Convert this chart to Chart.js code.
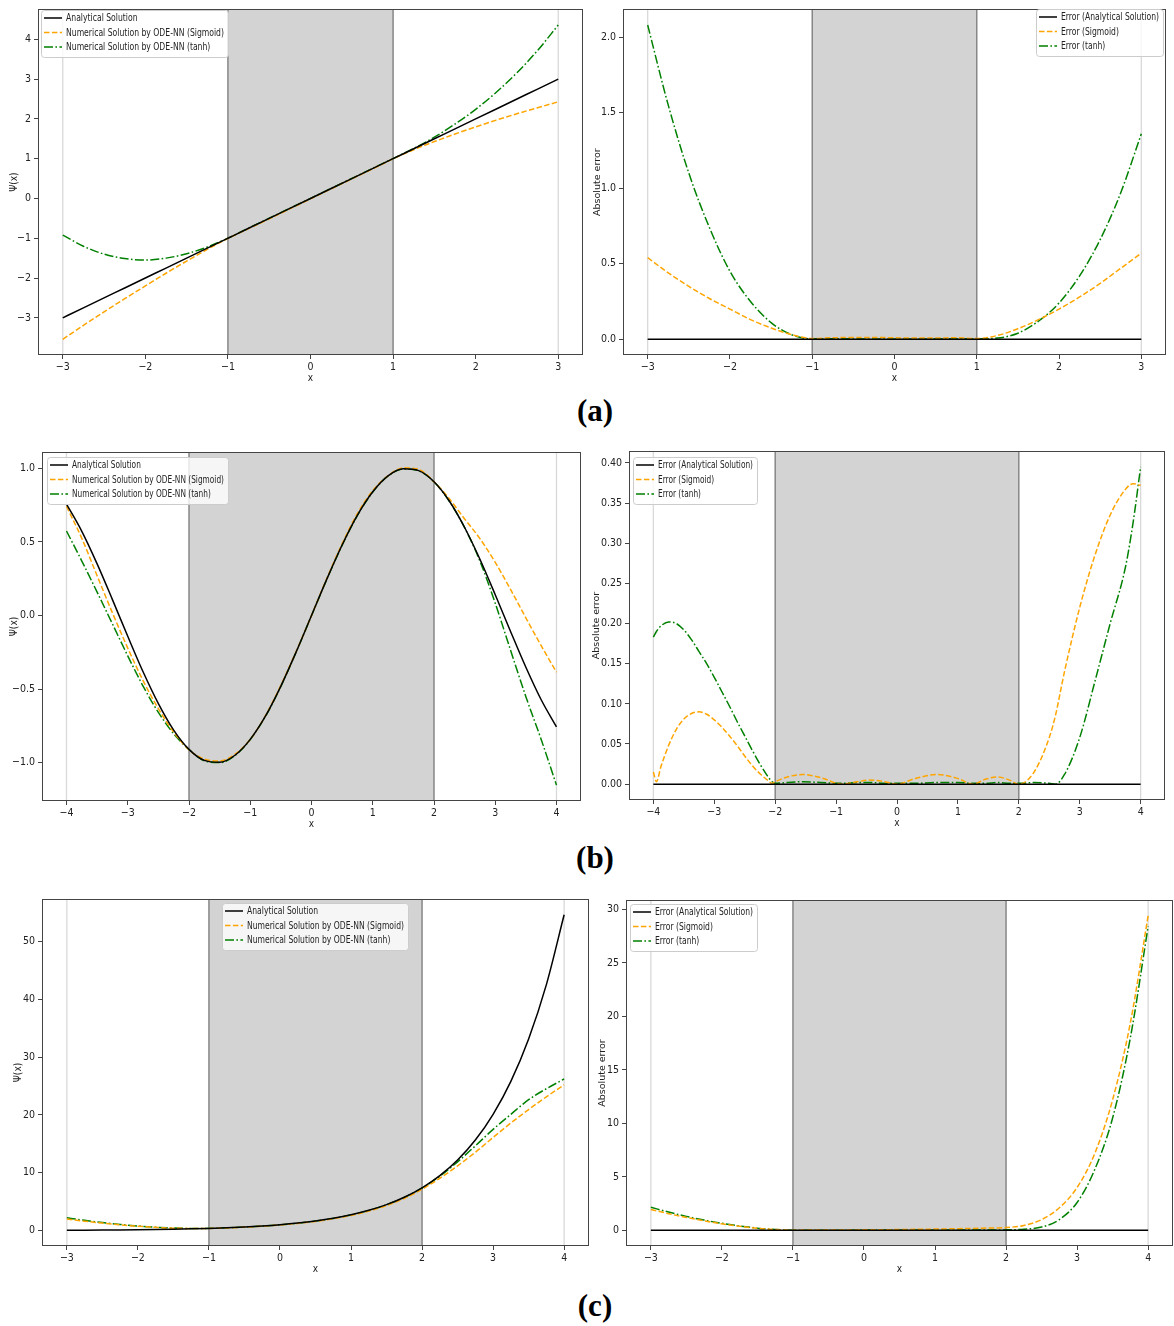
<!DOCTYPE html>
<html><head><meta charset="utf-8">
<script src="https://cdn.jsdelivr.net/npm/chart.js@4.4.1/dist/chart.umd.min.js"></script>
<style>
html,body{margin:0;padding:0;background:#fff;}
body{width:1174px;height:1326px;position:relative;overflow:hidden;}
canvas{position:absolute;}
.lab{position:absolute;font-family:"Liberation Serif","DejaVu Serif",serif;font-weight:bold;font-size:31px;line-height:1;transform:translateX(-50%);color:#000;}
</style></head><body>
<canvas id="a1"></canvas><canvas id="a2"></canvas>
<canvas id="b1"></canvas><canvas id="b2"></canvas>
<canvas id="c1"></canvas><canvas id="c2"></canvas>
<div class="lab" style="left:595px;top:395px;">(a)</div>
<div class="lab" style="left:595px;top:842px;">(b)</div>
<div class="lab" style="left:595px;top:1290px;">(c)</div>
<script>
// ---------- series names ----------
const namesPsi = ['Analytical Solution','Numerical Solution by ODE-NN (Sigmoid)','Numerical Solution by ODE-NN (tanh)'];
const namesErr = ['Error (Analytical Solution)','Error (Sigmoid)','Error (tanh)'];

// ---------- panel (a) ----------
const xA = [-3,-2.75,-2.5,-2.25,-2,-1.75,-1.5,-1.25,-1,-0.75,-0.5,-0.25,0,0.25,0.5,0.75,1,1.25,1.5,1.75,2,2.25,2.5,2.75,3];
const psiA_exact = [-3,-2.75,-2.5,-2.25,-2,-1.75,-1.5,-1.25,-1,-0.75,-0.5,-0.25,0,0.25,0.5,0.75,1,1.25,1.5,1.75,2,2.25,2.5,2.75,3];
const psiA_sig = [-3.54,-3.19,-2.85,-2.52,-2.2,-1.88,-1.575,-1.28,-1.005,-0.76,-0.512,-0.262,-0.01,0.242,0.492,0.74,0.995,1.225,1.43,1.62,1.8,1.97,2.13,2.28,2.43];
const psiA_tanh = [-0.92,-1.20,-1.40,-1.51,-1.55,-1.50,-1.39,-1.22,-0.997,-0.747,-0.497,-0.248,0.002,0.252,0.503,0.753,1.003,1.258,1.54,1.87,2.24,2.67,3.16,3.72,4.36];
const errA_exact = [0,0,0,0,0,0,0,0,0,0,0,0,0,0,0,0,0,0,0,0,0,0,0,0,0];
const errA_sig = [0.54,0.44,0.35,0.27,0.2,0.13,0.075,0.03,0.005,0.01,0.012,0.012,0.01,0.008,0.008,0.01,0.005,0.025,0.07,0.13,0.2,0.28,0.37,0.47,0.57];
const errA_tanh = [2.08,1.55,1.10,0.74,0.45,0.25,0.11,0.03,0.003,0.003,0.003,0.002,0.002,0.002,0.003,0.003,0.003,0.008,0.04,0.12,0.24,0.42,0.66,0.97,1.36];

// ---------- panel (b) ----------
const xB = [-4,-3.75,-3.5,-3.25,-3,-2.75,-2.5,-2.25,-2,-1.75,-1.5,-1.25,-1,-0.75,-0.5,-0.25,0,0.25,0.5,0.75,1,1.25,1.5,1.75,2,2.25,2.5,2.75,3,3.25,3.5,3.75,4];
const psiB_exact = [0.757,0.572,0.351,0.108,-0.141,-0.382,-0.598,-0.778,-0.909,-0.984,-0.997,-0.949,-0.841,-0.682,-0.479,-0.247,0,0.247,0.479,0.682,0.841,0.949,0.997,0.984,0.909,0.778,0.598,0.382,0.141,-0.108,-0.351,-0.572,-0.757];
const psiB_sig = [0.742,0.524,0.270,0.018,-0.221,-0.442,-0.633,-0.791,-0.912,-0.975,-0.988,-0.942,-0.841,-0.679,-0.474,-0.244,0.0,0.252,0.487,0.693,0.848,0.949,1.003,0.993,0.909,0.793,0.656,0.522,0.361,0.177,-0.016,-0.205,-0.385];
const psiB_tanh = [0.574,0.370,0.159,-0.057,-0.274,-0.479,-0.658,-0.803,-0.910,-0.986,-0.999,-0.951,-0.842,-0.684,-0.481,-0.248,-0.001,0.246,0.478,0.680,0.839,0.948,0.996,0.983,0.908,0.776,0.597,0.370,0.083,-0.236,-0.551,-0.842,-1.152];
const xBe = [-4,-3.95,-3.875,-3.75,-3.625,-3.5,-3.375,-3.25,-3.125,-3,-2.875,-2.75,-2.625,-2.5,-2.375,-2.25,-2.125,-2.05,-2,-1.8,-1.55,-1.25,-0.9,-0.65,-0.45,-0.2,0,0.3,0.65,1,1.25,1.45,1.65,1.85,2,2.25,2.5,2.6,2.75,3,3.25,3.5,3.75,3.875,4];
const errB_exact = [0,0,0,0,0,0,0,0,0,0,0,0,0,0,0,0,0,0,0,0,0,0,0,0,0,0,0,0,0,0,0,0,0,0,0,0,0,0,0,0,0,0,0,0,0];
const errB_sig = [0.015,0.003,0.022,0.048,0.068,0.081,0.088,0.09,0.087,0.08,0.071,0.06,0.048,0.035,0.023,0.013,0.005,0.001,0.003,0.009,0.012,0.008,0.0,0.003,0.005,0.003,0.0,0.007,0.012,0.007,0.0,0.006,0.009,0.005,0.0,0.015,0.058,0.085,0.14,0.22,0.285,0.335,0.367,0.374,0.372];
const errB_tanh = [0.183,0.19,0.197,0.202,0.2,0.192,0.18,0.165,0.15,0.133,0.115,0.097,0.078,0.06,0.042,0.025,0.01,0.003,0.001,0.002,0.003,0.002,0.001,0.002,0.002,0.001,0.001,0.001,0.002,0.002,0.001,0.001,0.002,0.001,0.001,0.002,0.001,0.0,0.012,0.058,0.128,0.2,0.27,0.325,0.395];

// ---------- panel (c) ----------
const xC = [-3,-2.75,-2.5,-2.25,-2,-1.75,-1.5,-1.25,-1,-0.75,-0.5,-0.25,0,0.25,0.5,0.75,1,1.25,1.5,1.75,2,2.25,2.5,2.75,3,3.25,3.5,3.75,4];
const psiC_exact = [0.050,0.064,0.082,0.105,0.135,0.174,0.223,0.287,0.368,0.472,0.607,0.779,1.0,1.284,1.649,2.117,2.718,3.490,4.482,5.755,7.389,9.488,12.18,15.64,20.09,25.79,33.12,42.52,54.6];
const psiC_sig = [2.0,1.614,1.282,0.985,0.735,0.544,0.413,0.357,0.358,0.452,0.577,0.749,0.96,1.234,1.579,2.027,2.608,3.35,4.312,5.545,7.139,9.038,11.18,13.54,16.09,18.59,20.92,23.12,25.2];
const psiC_tanh = [2.2,1.764,1.382,1.055,0.785,0.574,0.423,0.357,0.378,0.462,0.597,0.769,0.98,1.264,1.629,2.097,2.698,3.46,4.452,5.725,7.349,9.388,11.88,14.64,17.49,20.09,22.62,24.52,26.2];
const errC_exact = [0,0,0,0,0,0,0,0,0,0,0,0,0,0,0,0,0,0,0,0,0,0,0,0,0,0,0,0,0];
const errC_sig = [1.95,1.55,1.2,0.88,0.6,0.37,0.19,0.07,0.01,0.02,0.03,0.03,0.04,0.05,0.07,0.09,0.11,0.14,0.17,0.21,0.25,0.45,1.0,2.1,4.0,7.2,12.2,19.4,29.4];
const errC_tanh = [2.15,1.7,1.3,0.95,0.65,0.4,0.2,0.07,0.01,0.01,0.01,0.01,0.02,0.02,0.02,0.02,0.02,0.03,0.03,0.03,0.04,0.1,0.3,1.0,2.6,5.7,10.5,18.0,28.4];

// ---------- ticks ----------
const xTicksA = [-3,-2,-1,0,1,2,3];
const xLabelsA = ['\u22123','\u22122','\u22121','0','1','2','3'];
const yTicksA1 = [-3,-2,-1,0,1,2,3,4];
const yLabelsA1 = ['\u22123','\u22122','\u22121','0','1','2','3','4'];
const yTicksA2 = [0,0.5,1,1.5,2];
const yLabelsA2 = ['0.0','0.5','1.0','1.5','2.0'];
const xTicksB = [-4,-3,-2,-1,0,1,2,3,4];
const xLabelsB = ['\u22124','\u22123','\u22122','\u22121','0','1','2','3','4'];
const yTicksB1 = [-1,-0.5,0,0.5,1];
const yLabelsB1 = ['\u22121.0','\u22120.5','0.0','0.5','1.0'];
const yTicksB2 = [0,0.05,0.1,0.15,0.2,0.25,0.3,0.35,0.4];
const yLabelsB2 = ['0.00','0.05','0.10','0.15','0.20','0.25','0.30','0.35','0.40'];
const xTicksC = [-3,-2,-1,0,1,2,3,4];
const xLabelsC = ['\u22123','\u22122','\u22121','0','1','2','3','4'];
const yTicksC1 = [0,10,20,30,40,50];
const yLabelsC1 = ['0','10','20','30','40','50'];
const yTicksC2 = [0,5,10,15,20,25,30];
const yLabelsC2 = ['0','5','10','15','20','25','30'];

// ---------- styles ----------
const styles = [
  {color:'#000000', dash:[]},
  {color:'#ffa500', dash:[5.5,2.4]},
  {color:'#008000', dash:[9,2.4,1.6,2.4]}
];
const FAM = '"DejaVu Sans Condensed","DejaVu Sans",sans-serif';

function autoRange(arrs){
  let mn=Infinity,mx=-Infinity;
  arrs.forEach(a=>a.forEach(v=>{if(v<mn)mn=v;if(v>mx)mx=v;}));
  const m=(mx-mn)*0.05; return [mn-m,mx+m];
}

const decor = {
  id:'decor',
  beforeDatasetsDraw(chart,args,o){
    const {ctx,chartArea:{top,bottom,left,right},scales:{x}} = chart;
    ctx.save();
    ctx.beginPath(); ctx.rect(left,top,right-left,bottom-top); ctx.clip();
    const xa=x.getPixelForValue(o.shade[0]), xb=x.getPixelForValue(o.shade[1]);
    ctx.fillStyle='#d3d3d3'; ctx.fillRect(xa,top,xb-xa,bottom-top);
    ctx.strokeStyle='#d9d9d9'; ctx.lineWidth=1.3;
    o.domain.forEach(v=>{const p=x.getPixelForValue(v); ctx.beginPath(); ctx.moveTo(p,top); ctx.lineTo(p,bottom); ctx.stroke();});
    ctx.strokeStyle='#808080'; ctx.lineWidth=1.4;
    [xa,xb].forEach(p=>{ctx.beginPath(); ctx.moveTo(p,top); ctx.lineTo(p,bottom); ctx.stroke();});
    ctx.restore();
  },
  afterDatasetsDraw(chart,args,o){
    const {ctx,chartArea:{top,bottom,left,right}} = chart;
    ctx.save(); ctx.strokeStyle='#444'; ctx.lineWidth=1;
    ctx.strokeRect(Math.round(left)+0.5,Math.round(top)+0.5,Math.round(right-left)-1,Math.round(bottom-top)-1);
    ctx.restore();
  },
  afterDraw(chart,args,o){
    const ctx=chart.ctx, L=o.legend;
    const lx=L.l-o.off[0], ly=L.t-o.off[1];
    ctx.save();
    ctx.fillStyle='rgba(255,255,255,0.8)'; ctx.strokeStyle='#cccccc'; ctx.lineWidth=1;
    ctx.beginPath(); ctx.roundRect(lx+0.5,ly+0.5,L.w,L.h,3); ctx.fill(); ctx.stroke();
    ctx.font='normal normal 10px '+FAM; ctx.textBaseline='middle'; ctx.fillStyle='#222';
    let mw=0; o.names.forEach(nm=>{mw=Math.max(mw,ctx.measureText(nm).width);});
    const sx=Math.min(1,(L.w-29)/mw);
    o.names.forEach((nm,i)=>{
      const cy=ly+8+i*14.5;
      ctx.strokeStyle=styles[i].color; ctx.lineWidth=1.5; ctx.setLineDash(styles[i].dash);
      ctx.beginPath(); ctx.moveTo(lx+3,cy); ctx.lineTo(lx+21,cy); ctx.stroke();
      ctx.setLineDash([]);
      ctx.save(); ctx.translate(lx+25,cy+0.5); ctx.scale(sx,1); ctx.fillText(nm,0,0); ctx.restore();
    });
    ctx.restore();
  }
};

function makePanel(p){
  const cv=document.getElementById(p.id);
  cv.width=p.cv.w; cv.height=p.cv.h;
  cv.style.left=p.cv.l+'px'; cv.style.top=p.cv.t+'px';
  const yW=p.frame.l-p.cv.l;
  const xH=p.cv.t+p.cv.h-p.frame.b;
  const padTop=p.frame.t-p.cv.t;
  const padRight=p.cv.l+p.cv.w-p.frame.r;
  const yr=autoRange(p.series);
  const datasets=p.series.map((ys,i)=>({
    label:p.names[i],
    data:p.xs.map((x,j)=>({x:x,y:ys[j]})),
    borderColor:styles[i].color, borderDash:styles[i].dash, borderWidth:1.5,
    pointRadius:0, fill:false, cubicInterpolationMode:'monotone'
  }));
  const tickFont={family:FAM,size:10.5,weight:'normal condensed'};
  new Chart(cv,{
    type:'line',
    data:{datasets:datasets},
    options:{
      responsive:false, animation:false, devicePixelRatio:1,
      layout:{padding:{top:padTop,right:padRight,left:0,bottom:0}},
      plugins:{legend:{display:false},tooltip:{enabled:false},
        decor:{shade:p.shade,domain:p.domain,legend:p.legend,names:p.names,off:[p.cv.l,p.cv.t]}},
      scales:{
        x:{type:'linear',min:p.xRange[0],max:p.xRange[1],
          afterBuildTicks:s=>{s.ticks=p.xTicks.map(v=>({value:v}));},
          afterFit:s=>{s.height=xH;},
          ticks:{autoSkip:false,maxRotation:0,minRotation:0,padding:2,color:'#222',font:tickFont,
            callback:v=>{const i=p.xTicks.indexOf(v);return i>=0?p.xLabels[i]:'';}},
          grid:{drawOnChartArea:false,drawTicks:true,tickLength:4,color:'#444'},
          border:{display:false},
          title:{display:true,text:'x',color:'#222',font:{family:FAM,size:10,lineHeight:1.2,weight:'normal condensed'},padding:{top:0,bottom:2}}
        },
        y:{type:'linear',min:yr[0],max:yr[1],
          afterBuildTicks:s=>{s.ticks=p.yTicks.map(v=>({value:v}));},
          afterFit:s=>{s.width=yW;},
          ticks:{autoSkip:false,padding:3,color:'#222',font:tickFont,
            callback:v=>{const i=p.yTicks.indexOf(v);return i>=0?p.yLabels[i]:'';}},
          grid:{drawOnChartArea:false,drawTicks:true,tickLength:4,color:'#444'},
          border:{display:false},
          title:{display:true,text:p.yTitle,color:'#222',font:p.yFont,padding:{top:p.yTitleX-p.cv.l-6,bottom:0}}
        }
      }
    },
    plugins:[decor]
  });
}

const psiFont={family:FAM,size:10,lineHeight:1.2,weight:'normal condensed'};
const errFont={family:'"DejaVu Sans",sans-serif',size:9.5,lineHeight:1.2};

makePanel({id:'a1',cv:{l:0,t:0,w:590,h:386},frame:{l:38,t:6,r:583,b:355},xs:xA,series:[psiA_exact,psiA_sig,psiA_tanh],names:namesPsi,
  xRange:[-3.3,3.3],xTicks:xTicksA,xLabels:xLabelsA,yTicks:yTicksA1,yLabels:yLabelsA1,yTitle:'\u03a8(x)',yTitleX:14,yFont:psiFont,
  shade:[-1,1],domain:[-3,3],legend:{l:41,t:10,w:187,h:47}});
makePanel({id:'a2',cv:{l:590,t:0,w:584,h:386},frame:{l:623,t:5,r:1166,b:355},xs:xA,series:[errA_exact,errA_sig,errA_tanh],names:namesErr,
  xRange:[-3.3,3.3],xTicks:xTicksA,xLabels:xLabelsA,yTicks:yTicksA2,yLabels:yLabelsA2,yTitle:'Absolute error',yTitleX:598,yFont:errFont,
  shade:[-1,1],domain:[-3,3],legend:{l:1036,t:9,w:127,h:47}});
makePanel({id:'b1',cv:{l:0,t:440,w:590,h:392},frame:{l:42,t:452,r:581,b:801},xs:xB,series:[psiB_exact,psiB_sig,psiB_tanh],names:namesPsi,
  xRange:[-4.4,4.4],xTicks:xTicksB,xLabels:xLabelsB,yTicks:yTicksB1,yLabels:yLabelsB1,yTitle:'\u03a8(x)',yTitleX:14,yFont:psiFont,
  shade:[-2,2],domain:[-4,4],legend:{l:47,t:457,w:181,h:47}});
makePanel({id:'b2',cv:{l:590,t:440,w:584,h:391},frame:{l:629,t:451,r:1165,b:800},xs:xBe,series:[errB_exact,errB_sig,errB_tanh],names:namesErr,
  xRange:[-4.4,4.4],xTicks:xTicksB,xLabels:xLabelsB,yTicks:yTicksB2,yLabels:yLabelsB2,yTitle:'Absolute error',yTitleX:597,yFont:errFont,
  shade:[-2,2],domain:[-4,4],legend:{l:633,t:457,w:124,h:47}});
makePanel({id:'c1',cv:{l:0,t:888,w:594,h:389},frame:{l:42,t:899,r:589,b:1246},xs:xC,series:[psiC_exact,psiC_sig,psiC_tanh],names:namesPsi,
  xRange:[-3.35,4.35],xTicks:xTicksC,xLabels:xLabelsC,yTicks:yTicksC1,yLabels:yLabelsC1,yTitle:'\u03a8(x)',yTitleX:18,yFont:psiFont,
  shade:[-1,2],domain:[-3,4],legend:{l:222,t:903,w:186,h:47}});
makePanel({id:'c2',cv:{l:590,t:888,w:584,h:389},frame:{l:626,t:900,r:1173,b:1246},xs:xC,series:[errC_exact,errC_sig,errC_tanh],names:namesErr,
  xRange:[-3.35,4.35],xTicks:xTicksC,xLabels:xLabelsC,yTicks:yTicksC2,yLabels:yLabelsC2,yTitle:'Absolute error',yTitleX:603,yFont:errFont,
  shade:[-1,2],domain:[-3,4],legend:{l:630,t:904,w:127,h:47}});
</script>
</body></html>
